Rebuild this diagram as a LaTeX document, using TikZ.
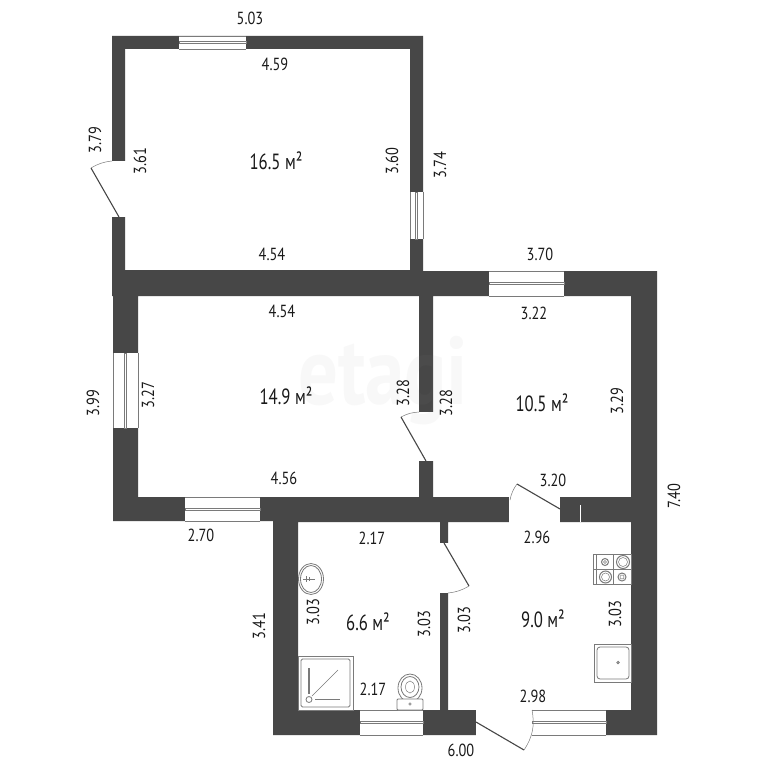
\documentclass[tikz,border=0pt]{standalone}
\usepackage{fontspec}
\setmainfont[FakeStretch=0.82]{PT Sans}
\newfontfamily\areafont[FakeStretch=0.76]{PT Sans}
\definecolor{wallc}{HTML}{474747}
\definecolor{fixc}{HTML}{7A7A7A}
\tikzset{
  x=1pt,y=-1pt,
  wallfill/.style={fill=wallc,draw=none},
  dim/.style={font=\fontsize{17.5}{17.5}\selectfont,text=black!90,inner sep=0pt},
  dimv/.style={dim,rotate=90},
  area/.style={font=\areafont\fontsize{22}{22}\selectfont,text=black!90,inner sep=0pt},
  leaf/.style={draw=wallc,line width=1.1pt},
  swing/.style={draw=fixc,line width=0.5pt},
  fixt/.style={draw=fixc,line width=0.8pt,fill=white},
  winframe/.style={draw=fixc,line width=0.5pt,fill=white},
  winbar/.style={draw=fixc,line width=0.5pt,fill=white}
}
\newcommand{\winh}[4]{% x1,x2,y1,y2
  \fill[white] (#1,#3) rectangle (#2,#4);
  \draw[winframe] (#1,#3) -- (#2,#3) (#1,#4) -- (#2,#4);
  \draw[winbar] (#1,{(#3+#4)/2-1}) rectangle (#2,{(#3+#4)/2+1});
}
\newcommand{\winv}[4]{%
  \fill[white] (#1,#3) rectangle (#2,#4);
  \draw[winframe] (#1,#3) -- (#1,#4) (#2,#3) -- (#2,#4);
  \draw[winbar] ({(#1+#2)/2-1},#3) rectangle ({(#1+#2)/2+1},#4);
}
\begin{document}
\begin{tikzpicture}
\useasboundingbox (0,0) rectangle (768,768);
\fill[white] (0,0) rectangle (768,768);
% walls
\fill[wallfill,even odd rule]
  (112,36) -- (423,36) -- (423,271) -- (657,271) -- (657,735) -- (273,735) -- (273,521) -- (113,521) -- (113,296) -- (112,296) -- cycle
  (125,49) -- (410,49) -- (410,270) -- (125,270) -- cycle
  (138,296) -- (419,296) -- (419,497) -- (138,497) -- cycle
  (433,296) -- (631,296) -- (631,497) -- (433,497) -- cycle
  (298,522) -- (440,522) -- (440,710) -- (298,710) -- cycle
  (448,522) -- (631,522) -- (631,710) -- (448,710) -- cycle;
% openings
\fill[white] (110,161) rectangle (125.5,217);
\fill[white] (418.5,412) rectangle (433.5,461);
\fill[white] (509,496.5) rectangle (560,522.5);
\fill[white] (439.5,543) rectangle (448.5,593);
\fill[white] (476,709.5) rectangle (532,737);
\draw[white,line width=0.8pt] (580,505) -- (580,522);
% windows
\winh{179}{246}{36}{49}
\winv{410}{423}{192}{239}
\winh{489}{564}{271}{296}
\winv{113}{138}{353}{428}
\winh{185}{260}{497}{521}
\winh{360}{423}{710}{735}
\winh{532}{606}{710}{735}
% watermark
\node[font=\fontsize{96}{96}\bfseries\selectfont,text=black!45,text opacity=0.06,inner sep=0pt] at (383,381) {etagi};
% doors
\coordinate (d1h) at (119,217); \coordinate (d1o) at (91,168); \coordinate (d1e) at (112,161);
\draw[leaf] (d1h) -- (d1o);
\draw[swing] (d1o) to[bend left=12] (d1e);
\coordinate (d2h) at (426,461); \coordinate (d2o) at (401,417); \coordinate (d2e) at (419,412);
\draw[leaf] (d2h) -- (d2o);
\draw[swing] (d2o) to[bend left=12] (d2e);
\coordinate (d3h) at (560,509); \coordinate (d3o) at (517,484); \coordinate (d3e) at (510,500);
\draw[leaf] (d3h) -- (d3o);
\draw[swing] (d3o) to[bend right=12] (d3e);
\coordinate (d4h) at (444,543); \coordinate (d4o) at (469,586); \coordinate (d4e) at (448,593);
\draw[leaf] (d4h) -- (d4o);
\draw[swing] (d4o) to[bend left=12] (d4e);
\coordinate (d5h) at (476,722); \coordinate (d5o) at (524,750); \coordinate (d5e) at (532,710);
\draw[leaf] (d5h) -- (d5o);
\draw[swing] (d5o) to[bend right=22] (d5e);
% wash basin
\draw[fixt] (311,579) ellipse [x radius=12.5,y radius=15.5];
\draw[fixt] (311,579) ellipse [x radius=10.5,y radius=13.5];
\draw[fixc,line width=0.7pt] (303,579) -- (315,579) (306,576) -- (306,582) (309,577) -- (309,581);
% shower
\draw[fixt] (298,656) rectangle (353,710);
\draw[fixt,rounded corners=1.5pt] (301,659) rectangle (350,707);
\draw[fixc,line width=1.8pt] (309,668) -- (309,694) (315,699.5) -- (340,699.5);
\draw[fixc,line width=0.6pt] (312,696) -- (338,670);
\draw[fixt] (309,699.5) circle (3);
% toilet
\draw[fixt] (410,688) ellipse [x radius=12,y radius=14];
\draw[fixt] (410,687) ellipse [x radius=9,y radius=10.5];
\draw[fixc,line width=0.5pt] (410,687) ellipse [x radius=4.5,y radius=6];
\draw[fixt,rounded corners=1pt] (397,699) rectangle (423,710);
\draw[fixc,line width=0.5pt] (410,704) circle (1.2);
% stove
\draw[fixt] (593,554) rectangle (631,584.5);
\draw[fixc,line width=0.7pt] (596,554) -- (596,584.5) (613.5,554) -- (613.5,584.5) (593,569) -- (631,569);
\foreach \cx/\cy/\ro in {605/562/3.5,623/562/6.5,605.5/577/6,622/577/4}{
  \draw[fixc,line width=1pt] (\cx,\cy) circle (\ro);
  \draw[fixc,line width=0.5pt] (\cx,\cy) circle ({\ro-2});
}
% kitchen sink
\draw[fixt] (594,644) rectangle (631,682);
\draw[fixt,rounded corners=3pt] (597,647) rectangle (629,679);
\draw[fixc,line width=0.8pt] (618,662.5) circle (1.2);
% labels
\node[dim] (a1) at (250,18) {5.03};
\node[dim] (a2) at (275,64) {4.59};
\node[area] (r1) at (276,161) {16.5 м²};
\node[dimv] (a3) at (95,140) {3.79};
\node[dimv] (a4) at (140,161) {3.61};
\node[dimv] (a5) at (392,161) {3.60};
\node[dimv] (a6) at (440,165) {3.74};
\node[dim] (a7) at (272,254) {4.54};
\node[dim] (a8) at (282,311) {4.54};
\node[dim] (a9) at (540,254) {3.70};
\node[dim] (a10) at (534,313) {3.22};
\node[area] (r2) at (542,403) {10.5 м²};
\node[dimv] (a11) at (403,393) {3.28};
\node[dimv] (a12) at (446,403) {3.28};
\node[dimv] (a13) at (617,401) {3.29};
\node[area] (r3) at (286,396) {14.9 м²};
\node[dimv] (a14) at (93,403) {3.99};
\node[dimv] (a15) at (148,395) {3.27};
\node[dim] (a16) at (284,478) {4.56};
\node[dim] (a17) at (201,535) {2.70};
\node[dim] (a18) at (553,480) {3.20};
\node[dim] (a19) at (537,537) {2.96};
\node[dimv] (a20) at (674,496) {7.40};
\node[dim] (a21) at (372,538) {2.17};
\node[area] (r4) at (368,622) {6.6 м²};
\node[dimv] (a22) at (313,612) {3.03};
\node[dimv] (a23) at (424,624) {3.03};
\node[dimv] (a24) at (464,620) {3.03};
\node[dimv] (a25) at (615,614) {3.03};
\node[area] (r5) at (543,619) {9.0 м²};
\node[dimv] (a26) at (259,626) {3.41};
\node[dim] (a27) at (373,689) {2.17};
\node[dim] (a28) at (533,696) {2.98};
\node[dim] (a29) at (461,750) {6.00};
\end{tikzpicture}
\end{document}
